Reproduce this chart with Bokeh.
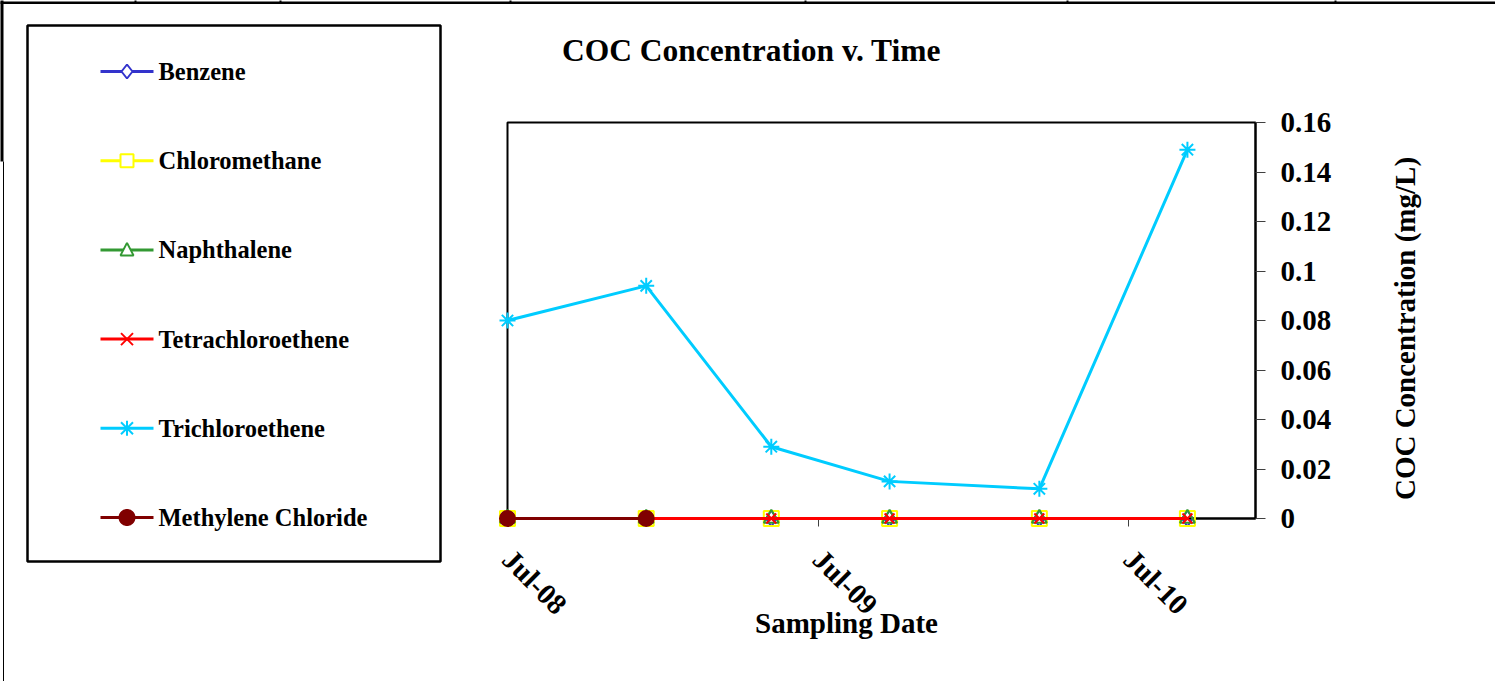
import math

import pandas as pd
from bokeh.core.properties import value
from bokeh.embed import file_html
from bokeh.models import FixedTicker, Range1d
from bokeh.plotting import figure
from bokeh.resources import INLINE

# ---- data -------------------------------------------------------------
sample_dates = ["2008-07-01", "2008-12-11", "2009-05-07",
                "2009-09-23", "2010-03-18", "2010-09-08"]
benzene = [0, 0, 0, 0, 0, 0]
chloromethane = [0, 0, 0, 0, 0, 0]
naphthalene = [0, 0, 0, 0, 0, 0]
tetrachloroethene = [0, 0, 0, 0, 0, 0]
trichloroethene = [0.080, 0.094, 0.029, 0.015, 0.012, 0.149]
methylene_dates = ["2008-07-01", "2008-12-11"]
methylene_chloride = [0, 0]

x_start, x_end = "2008-07-01", "2010-11-27"
x_ticks = ["2008-07-01", "2009-07-01", "2010-07-01"]
x_tick_labels = ["Jul-08", "Jul-09", "Jul-10"]
y_ticks = [0, 0.02, 0.04, 0.06, 0.08, 0.10, 0.12, 0.14, 0.16]
y_tick_labels = ["0", "0.02", "0.04", "0.06", "0.08", "0.1", "0.12", "0.14", "0.16"]

FONT = "Liberation Serif"


def ms(d):
    return pd.Timestamp(d).timestamp() * 1000.0


# ---- page geometry (pixels) --------------------------------------------
W, H = 1495, 681
FRAME_L, FRAME_R, FRAME_T, FRAME_B = 507, 1255, 122, 518
X0, X1 = ms(x_start), ms(x_end)
Y0, Y1 = 0.0, 0.16
XPX = (X1 - X0) / (FRAME_R - FRAME_L)   # data units per pixel, x
YPX = (Y1 - Y0) / (FRAME_B - FRAME_T)   # data units per pixel, y


def dx(px):
    """Canvas pixel column -> x data value (for drawing outside the frame)."""
    return X0 + (px - FRAME_L) * XPX


def dy(py):
    """Canvas pixel row -> y data value (for drawing outside the frame)."""
    return Y0 + (FRAME_B - py) * YPX


p = figure(width=W, height=H, x_axis_type="datetime", y_axis_location="right",
           x_range=Range1d(X0, X1), y_range=Range1d(Y0, Y1),
           output_backend="svg", toolbar_location=None,
           min_border_left=FRAME_L, min_border_right=W - FRAME_R,
           min_border_top=FRAME_T, min_border_bottom=H - FRAME_B,
           background_fill_color="white", border_fill_color="white",
           outline_line_color="black", outline_line_width=2)
p.grid.visible = False

# ---- series -------------------------------------------------------------
dates = pd.to_datetime(sample_dates)
series = [
    ("Benzene", dates, benzene, "#3333CC", "diamond", 16),
    ("Chloromethane", dates, chloromethane, "#FFFF00", "square", 15),
    ("Naphthalene", dates, naphthalene, "#339933", "triangle", 15),
    ("Tetrachloroethene", dates, tetrachloroethene, "#FF0000", "x", 14),
    ("Trichloroethene", dates, trichloroethene, "#00CCFF", "asterisk", 16),
    ("Methylene Chloride", pd.to_datetime(methylene_dates), methylene_chloride,
     "#800000", "circle", 15),
]

for name, xs, ys, color, marker, size in series:
    p.line(xs, ys, line_color=color, line_width=3, level="overlay")
    filled = marker == "circle"
    p.scatter(xs, ys, marker=marker, size=size,
              fill_color=color if filled else None,
              line_color=color, line_width=2, level="overlay")

# ---- axes ----------------------------------------------------------------
xa = p.xaxis[0]
xa.ticker = FixedTicker(ticks=[ms(t) for t in x_ticks])
xa.major_label_overrides = {ms(t): lab for t, lab in zip(x_ticks, x_tick_labels)}
xa.major_label_orientation = -math.pi / 4
xa.major_tick_out = 8
xa.major_tick_in = 0
xa.major_tick_line_color = "#404040"
xa.minor_tick_line_color = None
xa.axis_line_color = "black"
xa.axis_line_width = 2
xa.major_label_standoff = 28
xa.major_label_text_font = FONT
xa.major_label_text_font_style = "bold"
xa.major_label_text_font_size = "29px"
xa.major_label_text_color = "black"

ya = p.yaxis[0]
ya.ticker = FixedTicker(ticks=y_ticks)
ya.major_label_overrides = dict(zip(y_ticks, y_tick_labels))
ya.major_tick_out = 10
ya.major_tick_in = 0
ya.major_tick_line_color = "#404040"
ya.minor_tick_line_color = None
ya.axis_line_color = "black"
ya.axis_line_width = 2
ya.major_label_standoff = 15
ya.major_label_text_font = FONT
ya.major_label_text_font_style = "bold"
ya.major_label_text_font_size = "29px"
ya.major_label_text_color = "black"


# ---- texts around the plot area ------------------------------------------
def text(px, py, s, size, angle=0.0, align="center"):
    p.text(x=[dx(px)], y=[dy(py)], text=[s], angle=angle,
           text_align=align, text_baseline="middle",
           text_font=value(FONT), text_font_style="bold",
           text_font_size=size, text_color="black", level="overlay")


text(751, 50, "COC Concentration v. Time", "31.5px")
text(846, 622, "Sampling Date", "29px")
text(1404, 328, "COC Concentration (mg/L)", "29px", angle=math.pi / 2)


# ---- page rules and legend box -------------------------------------------
def box(l, t, r, b, fill="black", line=None, lw=0):
    p.quad(left=[dx(l)], right=[dx(r)], top=[dy(t)], bottom=[dy(b)],
           fill_color=fill, fill_alpha=1 if fill else 0,
           line_color=line, line_width=lw, level="overlay")


box(0, 1, W, 3.5)
for vx in [135, 280, 510, 805, 1067, 1335]:
    box(vx - 1, 0, vx + 1, 3)
box(0, 0, 3, 161)
box(2.5, 161, 3.5, H)
box(27, 25, 440, 561, fill=None, line="black", lw=2.5)


# ---- legend entries (drawn as paths, since markers are culled outside the frame)
def shape(cx, cy, pts, color, fill):
    p.patch(x=[dx(cx + ox) for ox, oy in pts], y=[dy(cy + oy) for ox, oy in pts],
            fill_color=fill, line_color=color, line_width=2, level="overlay")


def strokes(cx, cy, segs, color):
    p.multi_line(xs=[[dx(cx + a), dx(cx + c)] for a, b, c, d in segs],
                 ys=[[dy(cy + b), dy(cy + d)] for a, b, c, d in segs],
                 line_color=color, line_width=2, level="overlay")


def legend_marker(marker, cx, cy, color):
    if marker == "diamond":
        shape(cx, cy, [(0, -7), (5.5, 0), (0, 7), (-5.5, 0)], color, "white")
    elif marker == "square":
        shape(cx, cy, [(-6.5, -6.5), (6.5, -6.5), (6.5, 6.5), (-6.5, 6.5)], color, "white")
    elif marker == "triangle":
        shape(cx, cy, [(0, -7), (6.5, 5.5), (-6.5, 5.5)], color, "white")
    elif marker == "x":
        strokes(cx, cy, [(-6, -6, 6, 6), (-6, 6, 6, -6)], color)
    elif marker == "asterisk":
        strokes(cx, cy, [(-6, -6, 6, 6), (-6, 6, 6, -6), (0, -7.5, 0, 7.5)], color)
    else:
        n = 36
        shape(cx, cy, [(7.5 * math.cos(2 * math.pi * k / n), 7.5 * math.sin(2 * math.pi * k / n))
                       for k in range(n)], color, color)


for i, (name, _, _, color, marker, size) in enumerate(series):
    ry = 71 + i * 89.2
    p.segment(x0=[dx(100)], y0=[dy(ry)], x1=[dx(153)], y1=[dy(ry)],
              line_color=color, line_width=3, level="overlay")
    legend_marker(marker, 126.5, ry, color)
    text(158, ry, name, "24.5px", align="left")

open("out.html", "w").write(file_html(p, INLINE))
